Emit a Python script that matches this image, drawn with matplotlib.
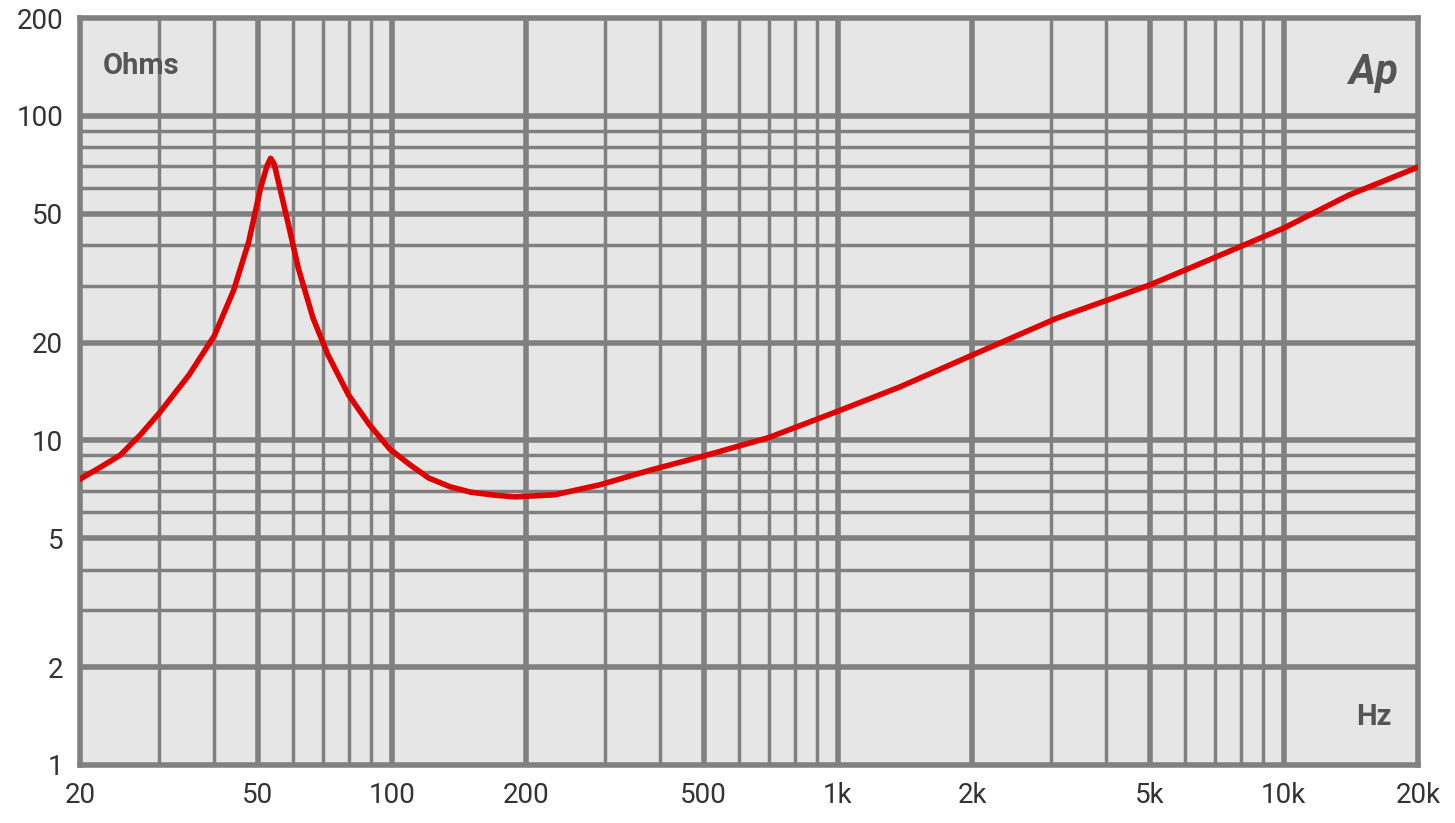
import matplotlib
matplotlib.use("Agg")
import matplotlib.pyplot as plt

freq = [20, 22, 24.6, 27.3, 30.2, 35.1, 40, 44.2, 47.8, 50.8, 52.5, 53.5, 54.5, 56.6, 58.7, 61.7, 66.6, 72, 80, 89, 99,
        110, 121, 135, 150, 170, 189, 232, 293, 380, 500, 700, 1000, 1376, 2000, 3100, 5000, 7200, 10000, 14000, 20000]
ohms = [7.6, 8.2, 9.0, 10.4, 12.2, 15.9, 21, 29, 41, 60, 70, 74, 71, 57, 46, 34, 23.8, 18.3, 13.8, 11.2, 9.4,
        8.4, 7.66, 7.2, 6.93, 6.78, 6.7, 6.8, 7.3, 8.1, 8.95, 10.2, 12.3, 14.6, 18.3, 23.8, 30.1, 37.2, 45.1, 57, 69.5]
xticks = [20, 50, 100, 200, 500, 1000, 2000, 5000, 10000, 20000]
xlabels = ["20", "50", "100", "200", "500", "1k", "2k", "5k", "10k", "20k"]
yticks = [1, 2, 5, 10, 20, 50, 100, 200]

plt.rcParams['font.family'] = ['Roboto', 'DejaVu Sans']
fig = plt.figure(figsize=(14.55, 8.23), dpi=100)
ax = fig.add_axes([0.055, 0.0705, 0.9196, 0.9075])
ax.set_facecolor('#e6e6e6')
ax.set_xscale('log'); ax.set_yscale('log')
ax.set_xlim(20, 20000); ax.set_ylim(1, 200)

gc = '#808080'
for dec in [10, 100, 1000, 10000]:
    for m in range(1, 10):
        f = dec * m
        if 20 < f < 20000:
            lw = 4 if m in (1, 2, 5) else 2.5
            ax.axvline(f, color=gc, lw=lw, zorder=1)
for dec in [1, 10, 100]:
    for m in range(1, 10):
        v = dec * m
        if 1 < v < 200:
            lw = 4 if m in (1, 2, 5) else 2.5
            ax.axhline(v, color=gc, lw=lw, zorder=1)
for s in ax.spines.values():
    s.set_color(gc); s.set_linewidth(4)

ax.plot(freq, ohms, color='#e00000', lw=4, zorder=3, solid_joinstyle='round')

ax.set_xticks(xticks); ax.set_xticklabels(xlabels)
ax.set_yticks(yticks); ax.set_yticklabels([str(v) for v in yticks])
ax.minorticks_off()
ax.tick_params(length=0, labelsize=20, colors='#333333', pad=12)
ax.text(0.017, 0.955, "Ohms", transform=ax.transAxes, fontsize=21, fontweight='bold',
        color='#555555', va='top')
ax.text(0.98, 0.045, "Hz", transform=ax.transAxes, fontsize=21, fontweight='bold',
        color='#555555', ha='right', va='bottom')
ax.text(0.985, 0.955, "Ap", transform=ax.transAxes, fontsize=30, fontweight='bold',
        style='italic', color='#555555', ha='right', va='top')
fig.savefig("out.png", dpi=100, facecolor='white')
